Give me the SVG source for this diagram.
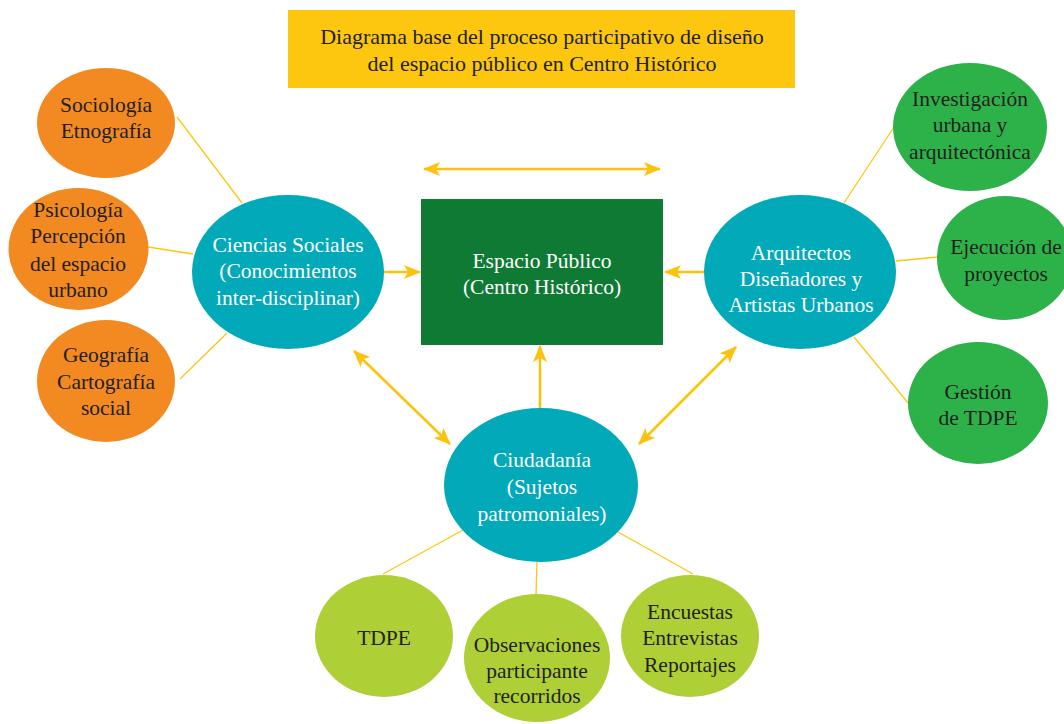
<svg xmlns="http://www.w3.org/2000/svg" width="1064" height="724" viewBox="0 0 1064 724" font-family="'Liberation Serif', 'DejaVu Serif', serif">
<style>
text{font-family:'Liberation Serif','DejaVu Serif',serif;font-size:21.5px;text-anchor:middle}
.ttl{font-size:22px}
.dk{fill:#231f20}
.wt{fill:#ffffff}
.or{fill:#f28a21}
.tl{fill:#02a9b8}
.gr{fill:#2db24a}
.lm{fill:#aecf36}
.thin{stroke:#fdc70f;stroke-width:1.3;fill:none}
.arr{stroke:#fdc20f;stroke-width:2.6;fill:none}
</style>
<defs>
<marker id="ah" markerUnits="userSpaceOnUse" markerWidth="18" markerHeight="16" viewBox="0 0 18 16" refX="16" refY="8" orient="auto-start-reverse">
<path d="M0,1 L17,8 L0,15 L4,8 z" fill="#fdc20f"/>
</marker>
</defs>
<rect width="1064" height="724" fill="#ffffff"/>
<g id="title">
<rect x="288" y="10" width="507" height="78" fill="#fdc70f"/>
<text x="542" y="44" class="dk ttl">Diagrama base del proceso participativo de diseño</text>
<text x="542" y="71" class="dk ttl">del espacio público en Centro Histórico</text>
</g>
<g id="connectors">
<line class="thin" x1="177" y1="117" x2="242" y2="203"/>
<line class="thin" x1="148" y1="247" x2="193" y2="254"/>
<line class="thin" x1="180" y1="379" x2="227" y2="333"/>
<line class="thin" x1="844" y1="203" x2="894" y2="127"/>
<line class="thin" x1="896" y1="261" x2="938" y2="257"/>
<line class="thin" x1="854" y1="337" x2="909" y2="404"/>
<line class="thin" x1="383" y1="574" x2="463" y2="530"/>
<line class="thin" x1="536" y1="595" x2="537" y2="562"/>
<line class="thin" x1="693" y1="574" x2="618" y2="532"/>
<line class="arr" x1="424" y1="169" x2="660" y2="169" marker-start="url(#ah)" marker-end="url(#ah)"/>
<line class="arr" x1="384" y1="272" x2="420" y2="272" marker-end="url(#ah)"/>
<line class="arr" x1="704" y1="272" x2="665" y2="272" marker-end="url(#ah)"/>
<line class="arr" x1="540" y1="408" x2="540" y2="346" marker-end="url(#ah)"/>
<line class="arr" x1="354" y1="351" x2="450" y2="444" marker-start="url(#ah)" marker-end="url(#ah)"/>
<line class="arr" x1="736" y1="347" x2="639" y2="444" marker-start="url(#ah)" marker-end="url(#ah)"/>
</g>
<g id="espacio">
<rect x="421" y="199" width="242" height="146" fill="#0f7a33"/>
<text x="542" y="268" class="wt">Espacio Público</text>
<text x="542" y="294" class="wt">(Centro Histórico)</text>
</g>
<g id="ciencias">
<ellipse cx="288" cy="272" rx="96" ry="77" class="tl"/>
<text x="288" y="252" class="wt">Ciencias Sociales</text>
<text x="288" y="278" class="wt">(Conocimientos</text>
<text x="288" y="305" class="wt">inter-disciplinar)</text>
</g>
<g id="sociologia">
<ellipse cx="106" cy="123" rx="69" ry="55" class="or"/>
<text x="106" y="112" class="dk">Sociología</text>
<text x="106" y="138" class="dk">Etnografía</text>
</g>
<g id="psicologia">
<ellipse cx="78.5" cy="249" rx="70" ry="61" class="or"/>
<text x="78" y="217" class="dk">Psicología</text>
<text x="78" y="243" class="dk">Percepción</text>
<text x="78" y="271" class="dk">del espacio</text>
<text x="78" y="297" class="dk">urbano</text>
</g>
<g id="geografia">
<ellipse cx="106" cy="381" rx="69" ry="61" class="or"/>
<text x="106" y="362" class="dk">Geografía</text>
<text x="106" y="389" class="dk">Cartografía</text>
<text x="106" y="415" class="dk">social</text>
</g>
<g id="arquitectos">
<ellipse cx="800" cy="272" rx="96" ry="77" class="tl"/>
<text x="801" y="260" class="wt">Arquitectos</text>
<text x="801" y="286" class="wt">Diseñadores y</text>
<text x="801" y="312" class="wt">Artistas Urbanos</text>
</g>
<g id="investigacion">
<ellipse cx="970" cy="127" rx="77" ry="64" class="gr"/>
<text x="970" y="106" class="dk">Investigación</text>
<text x="970" y="132" class="dk">urbana y</text>
<text x="970" y="159" class="dk">arquitectónica</text>
</g>
<g id="ejecucion">
<ellipse cx="1005" cy="258" rx="68" ry="62" class="gr"/>
<text x="1006" y="254" class="dk">Ejecución de</text>
<text x="1006" y="281" class="dk">proyectos</text>
</g>
<g id="gestion">
<ellipse cx="978" cy="403" rx="70" ry="61" class="gr"/>
<text x="978" y="399" class="dk">Gestión</text>
<text x="978" y="425" class="dk">de TDPE</text>
</g>
<g id="ciudadania">
<ellipse cx="541" cy="485" rx="97" ry="77" class="tl"/>
<text x="542" y="467" class="wt">Ciudadanía</text>
<text x="542" y="494" class="wt">(Sujetos</text>
<text x="542" y="521" class="wt">patromoniales)</text>
</g>
<g id="tdpe">
<ellipse cx="384" cy="636" rx="69" ry="61" class="lm"/>
<text x="384" y="645" class="dk">TDPE</text>
</g>
<g id="observaciones">
<ellipse cx="537" cy="658" rx="73" ry="64" class="lm"/>
<text x="537" y="652" class="dk">Observaciones</text>
<text x="537" y="678" class="dk">participante</text>
<text x="537" y="703" class="dk">recorridos</text>
</g>
<g id="encuestas">
<ellipse cx="690" cy="636" rx="69" ry="61" class="lm"/>
<text x="690" y="619" class="dk">Encuestas</text>
<text x="690" y="645" class="dk">Entrevistas</text>
<text x="690" y="672" class="dk">Reportajes</text>
</g>
</svg>
